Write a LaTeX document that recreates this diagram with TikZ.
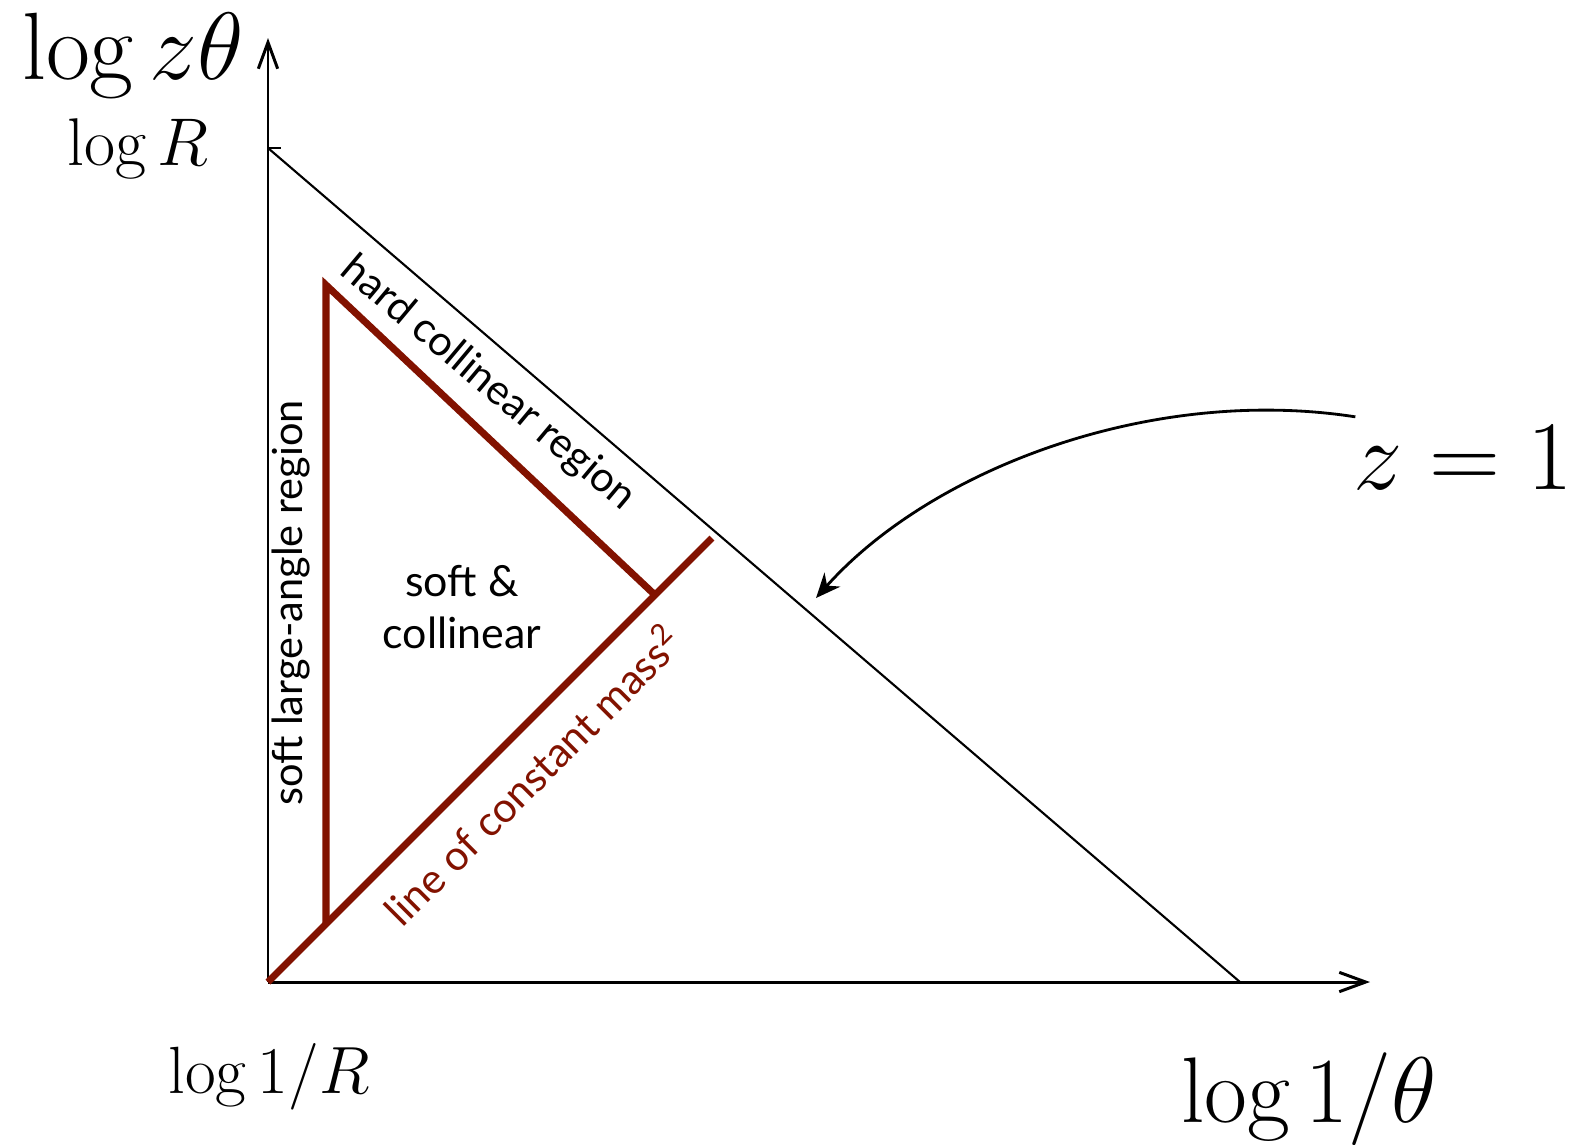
\RequirePackage{fix-cm}
\documentclass[tikz,border=0pt]{standalone}
\usepackage{fontspec}
\newfontfamily\gill{Lato}
\usetikzlibrary{arrows.meta, positioning}
\definecolor{massred}{RGB}{130, 18, 0}

\begin{document}
\begin{tikzpicture}[x=0.01cm, y=-0.01cm,
  axis/.style={line width=0.85pt, -{Straight Barb[length=7.5pt, width=5.5pt]}},
  edge/.style={line width=0.6pt},
  region/.style={draw=massred, line width=2pt},
  lbl/.style={font=\gill\fontsize{11.8}{15}\selectfont, inner sep=0pt},
  mlbl/.style={inner sep=0pt, anchor=base}
]
  \useasboundingbox (0,0) rectangle (1575,1144);

  % axes and the z = 1 boundary
  \coordinate (O) at (268,982);
  \coordinate (ytip) at (268,38);
  \coordinate (xtip) at (1370,982);
  \coordinate (R) at (268,148);
  \coordinate (Rtick) at (281,148);
  \coordinate (zend) at (1240,982);
  \draw[axis] (O) -- (ytip);
  \draw[axis] (O) -- (xtip);
  \draw[edge] (R) -- (Rtick);
  \draw[edge] (R) -- (zend);

  % soft & collinear triangle
  \coordinate (top) at (326,285);
  \coordinate (foot) at (326,924);
  \coordinate (knee) at (655,595);
  \coordinate (mtop) at (712,538);
  \draw[region] (foot) -- (top) -- (knee);
  \draw[region] (O) -- (mtop);

  % axis labels
  \node[mlbl, font=\fontsize{27.2}{30}\selectfont] (ylab) at (133,79) {$\log z\theta$};
  \node[mlbl, font=\fontsize{19.2}{22}\selectfont] (Rlab) at (138,165) {$\log R$};
  \node[mlbl, font=\fontsize{19}{22}\selectfont] (invR) at (269,1093) {$\log 1/R$};
  \node[mlbl, font=\fontsize{26.5}{30}\selectfont] (xlab) at (1309,1122) {$\log 1/\theta$};
  \node[mlbl, font=\fontsize{28}{32}\selectfont] (zlab) at (1463,489) {$z=1$};

  % region labels
  \node[lbl, rotate=90] (wide) at (291,603) {soft large-angle region};
  \node[lbl, align=center, font=\gill\fontsize{12.2}{15}\selectfont] (soft) at (462,607) {soft \&\\collinear};
  \node[lbl, rotate=-40] (hard) at (488,384) {hard collinear region};
  \node[lbl, rotate=45, text=massred] (mass) at (532,774) {line of constant mass\textsuperscript{2}};

  \coordinate (zto) at (816,598);
  \draw[line width=0.8pt, -{Stealth[length=7pt, width=6pt]}]
    ([shift={(3,-8)}]zlab.north west) .. controls (1150,385) and (930,470) .. (zto);
\end{tikzpicture}
\end{document}
